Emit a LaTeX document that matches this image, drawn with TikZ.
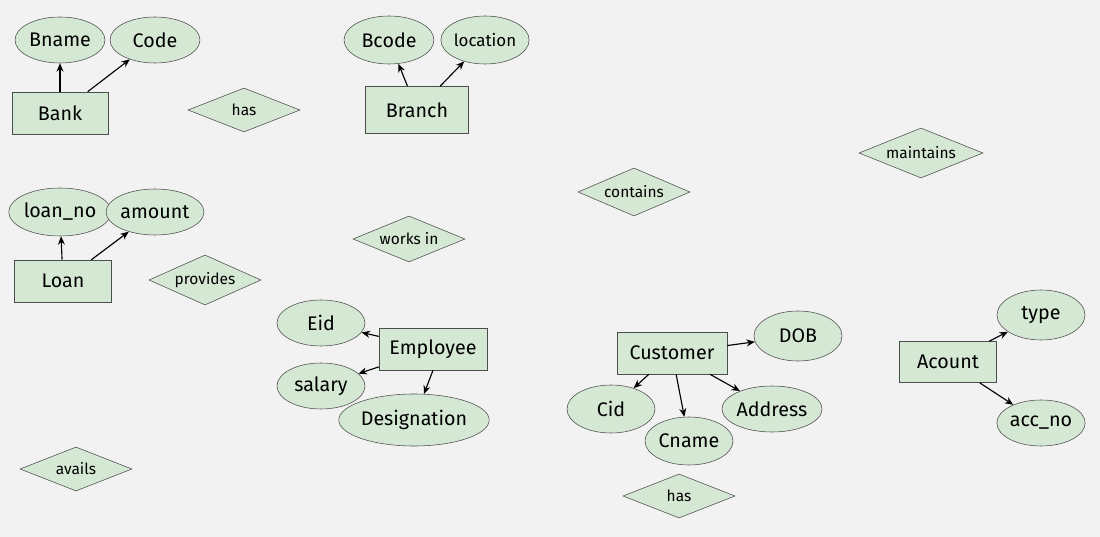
\documentclass[tikz,border=0pt]{standalone}
\usepackage{fontspec}
\setmainfont{Fira Sans}
\usetikzlibrary{arrows.meta, shapes.geometric}
\definecolor{erfill}{HTML}{D5E8D4}
\definecolor{erline}{HTML}{4D4D4D}
\definecolor{erback}{HTML}{F2F2F2}
\tikzset{
  attr/.style={ellipse, draw=erline, fill=erfill, inner sep=0pt, font=\fontsize{14}{16}\selectfont},
  ent/.style={rectangle, draw=erline, fill=erfill, inner sep=0pt, font=\fontsize{14}{16}\selectfont},
  rel/.style={diamond, aspect=2.5, draw=erline, fill=erfill, inner sep=0pt, font=\fontsize{11}{13}\selectfont},
  link/.style={-{Stealth[length=6pt,width=5pt]}, thick, black}
}
\begin{document}
\begin{tikzpicture}[x=0.025cm, y=-0.025cm]
  % background
  \fill[erback] (0,0) rectangle (1100,537);
  \useasboundingbox (0,0) rectangle (1100,537);

  % Bank
  \node[ent, minimum width=96*0.025cm, minimum height=42*0.025cm] (bank) at (60,113) {Bank};
  \node[attr, minimum width=90*0.025cm, minimum height=46*0.025cm] (bname) at (60,40) {Bname};
  \node[attr, minimum width=90*0.025cm, minimum height=46*0.025cm] (code) at (155,40) {Code};
  \node[rel, minimum width=112*0.025cm, minimum height=44*0.025cm] (has1) at (244,110) {has};

  % Branch
  \node[ent, minimum width=103*0.025cm, minimum height=47*0.025cm] (branch) at (417,110) {Branch};
  \node[attr, minimum width=90*0.025cm, minimum height=48*0.025cm] (bcode) at (389,40) {Bcode};
  \node[attr, minimum width=88*0.025cm, minimum height=48*0.025cm, font=\fontsize{12}{14}\selectfont] (location) at (485,40) {location};

  \node[rel, minimum width=124*0.025cm, minimum height=50*0.025cm] (maintains) at (921,153) {maintains};
  \node[rel, minimum width=112*0.025cm, minimum height=48*0.025cm] (contains) at (634,192) {contains};

  % Loan
  \node[ent, minimum width=97*0.025cm, minimum height=42*0.025cm] (loan) at (63,281) {Loan};
  \node[attr, minimum width=92*0.025cm, minimum height=48*0.025cm] (loanno) at (60,212) {loan\_no};
  \node[attr, minimum width=86*0.025cm, minimum height=46*0.025cm] (amount) at (155,212) {amount};
  \node[rel, minimum width=112*0.025cm, minimum height=50*0.025cm] (provides) at (205,280) {provides};
  \node[rel, minimum width=112*0.025cm, minimum height=46*0.025cm] (worksin) at (409,239) {works in};

  % Employee
  \node[ent, minimum width=108*0.025cm, minimum height=42*0.025cm] (employee) at (433,349) {Employee};
  \node[attr, minimum width=88*0.025cm, minimum height=46*0.025cm] (eid) at (321,323) {Eid};
  \node[attr, minimum width=88*0.025cm, minimum height=46*0.025cm] (salary) at (321,386) {salary};
  \node[attr, minimum width=130*0.025cm, minimum height=52*0.025cm] (designation) at (414,420) {Designation};

  % Customer
  \node[ent, minimum width=110*0.025cm, minimum height=42*0.025cm] (customer) at (672,353) {Customer};
  \node[attr, minimum width=88*0.025cm, minimum height=50*0.025cm] (dob) at (798,336) {DOB};
  \node[attr, minimum width=88*0.025cm, minimum height=48*0.025cm] (cid) at (611,409) {Cid};
  \node[attr, minimum width=88*0.025cm, minimum height=46*0.025cm] (address) at (772,409) {Address};
  \node[attr, minimum width=88*0.025cm, minimum height=48*0.025cm] (cname) at (689,441) {Cname};
  \node[rel, minimum width=112*0.025cm, minimum height=44*0.025cm] (has2) at (679,496) {has};

  % Account
  \node[ent, minimum width=97*0.025cm, minimum height=41*0.025cm] (acount) at (948,362) {Acount};
  \node[attr, minimum width=88*0.025cm, minimum height=50*0.025cm] (type) at (1041,315) {type};
  \node[attr, minimum width=88*0.025cm, minimum height=46*0.025cm] (accno) at (1041,423) {acc\_no};

  \node[rel, minimum width=112*0.025cm, minimum height=44*0.025cm] (avails) at (76,469) {avails};

  % attribute links
  \draw[link] (bank) -- (bname);
  \draw[link] (bank) -- (code);
  \draw[link] (branch) -- (bcode);
  \draw[link] (branch) -- (location);
  \draw[link] (loan) -- (loanno);
  \draw[link] (loan) -- (amount);
  \draw[link] (employee) -- (eid);
  \draw[link] (employee) -- (salary);
  \draw[link] (employee.south) -- (designation);
  \draw[link] (customer) -- (dob);
  \draw[link] (customer) -- (cid);
  \draw[link] (customer) -- (address);
  \draw[link] (customer) -- (cname);
  \draw[link] (acount) -- (type);
  \draw[link] (acount) -- (accno);
\end{tikzpicture}
\end{document}
